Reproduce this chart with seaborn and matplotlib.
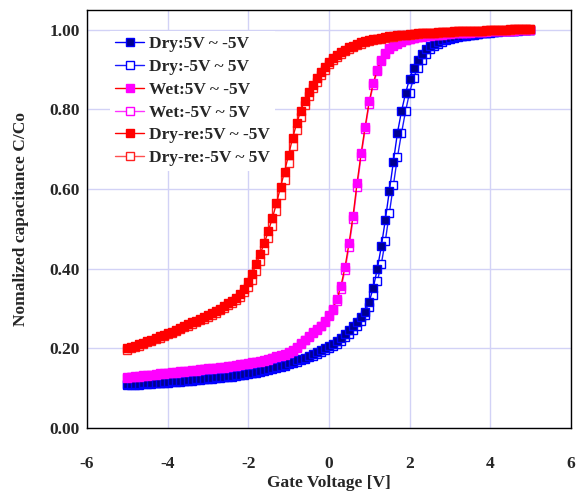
import numpy as np
import pandas as pd
import matplotlib
matplotlib.use("Agg")
import matplotlib.pyplot as plt
import seaborn as sns

# Gate voltage sweep (V), 0.1 V steps from -5 to 5
voltage = np.round(np.arange(-50, 51) / 10.0, 1)

dry_fwd = [
    0.110, 0.110, 0.111, 0.111, 0.112, 0.112, 0.113, 0.114, 0.114, 0.115,
    0.116, 0.117, 0.117, 0.118, 0.119, 0.120, 0.121, 0.122, 0.123, 0.124,
    0.125, 0.126, 0.127, 0.128, 0.129, 0.130, 0.131, 0.133, 0.134, 0.135,
    0.137, 0.139, 0.141, 0.143, 0.145, 0.148, 0.150, 0.153, 0.156, 0.159,
    0.163, 0.166, 0.170, 0.173, 0.177, 0.182, 0.186, 0.191, 0.195, 0.200,
    0.205, 0.211, 0.218, 0.225, 0.235, 0.245, 0.255, 0.265, 0.278, 0.292,
    0.317, 0.352, 0.399, 0.456, 0.523, 0.596, 0.669, 0.741, 0.795, 0.840,
    0.877, 0.905, 0.925, 0.940, 0.952, 0.960, 0.965, 0.970, 0.974, 0.977,
    0.980, 0.982, 0.984, 0.985, 0.987, 0.988, 0.989, 0.990, 0.992, 0.993,
    0.994, 0.995, 0.996, 0.996, 0.997, 0.998, 0.998, 0.999, 0.999, 1.000, 1.000]

dry_rev = [
    0.108, 0.108, 0.109, 0.109, 0.110, 0.110, 0.111, 0.112, 0.112, 0.113,
    0.114, 0.115, 0.115, 0.116, 0.117, 0.118, 0.119, 0.120, 0.121, 0.122,
    0.123, 0.124, 0.125, 0.126, 0.127, 0.128, 0.129, 0.131, 0.132, 0.133,
    0.135, 0.137, 0.139, 0.141, 0.143, 0.146, 0.148, 0.151, 0.154, 0.157,
    0.160, 0.163, 0.167, 0.170, 0.174, 0.178, 0.182, 0.187, 0.191, 0.195,
    0.200, 0.206, 0.212, 0.219, 0.228, 0.237, 0.247, 0.257, 0.270, 0.285,
    0.305, 0.335, 0.368, 0.412, 0.470, 0.540, 0.610, 0.680, 0.740, 0.795,
    0.842, 0.878, 0.905, 0.925, 0.940, 0.951, 0.959, 0.965, 0.970, 0.974,
    0.977, 0.980, 0.982, 0.984, 0.985, 0.987, 0.988, 0.989, 0.991, 0.992,
    0.993, 0.994, 0.995, 0.996, 0.997, 0.997, 0.998, 0.998, 0.999, 0.999, 1.000]

wet_fwd = [
    0.128, 0.129, 0.130, 0.131, 0.132, 0.133, 0.134, 0.135, 0.137, 0.138,
    0.139, 0.140, 0.141, 0.142, 0.143, 0.144, 0.145, 0.146, 0.148, 0.149,
    0.150, 0.151, 0.152, 0.153, 0.154, 0.156, 0.157, 0.159, 0.160, 0.162,
    0.163, 0.165, 0.167, 0.169, 0.171, 0.174, 0.177, 0.180, 0.183, 0.186,
    0.190, 0.196, 0.204, 0.213, 0.222, 0.230, 0.240, 0.248, 0.257, 0.270,
    0.285, 0.300, 0.323, 0.357, 0.404, 0.464, 0.533, 0.616, 0.690, 0.757,
    0.820, 0.866, 0.900, 0.925, 0.942, 0.953, 0.961, 0.967, 0.971, 0.975,
    0.978, 0.980, 0.982, 0.984, 0.985, 0.986, 0.987, 0.988, 0.989, 0.990,
    0.991, 0.992, 0.992, 0.993, 0.993, 0.994, 0.994, 0.995, 0.995, 0.996,
    0.996, 0.997, 0.997, 0.997, 0.998, 0.998, 0.999, 0.999, 0.999, 1.000, 1.000]

wet_rev = [
    0.126, 0.127, 0.128, 0.129, 0.130, 0.131, 0.132, 0.133, 0.135, 0.136,
    0.137, 0.138, 0.139, 0.140, 0.141, 0.142, 0.143, 0.144, 0.146, 0.147,
    0.148, 0.149, 0.150, 0.151, 0.152, 0.154, 0.155, 0.157, 0.158, 0.160,
    0.161, 0.163, 0.165, 0.167, 0.169, 0.172, 0.175, 0.178, 0.181, 0.184,
    0.188, 0.194, 0.202, 0.211, 0.220, 0.228, 0.238, 0.246, 0.255, 0.267,
    0.282, 0.296, 0.318, 0.350, 0.396, 0.455, 0.524, 0.606, 0.682, 0.750,
    0.814, 0.861, 0.896, 0.922, 0.940, 0.951, 0.959, 0.965, 0.970, 0.974,
    0.977, 0.979, 0.981, 0.983, 0.984, 0.985, 0.986, 0.987, 0.988, 0.989,
    0.990, 0.991, 0.992, 0.992, 0.993, 0.993, 0.994, 0.994, 0.995, 0.995,
    0.996, 0.996, 0.997, 0.997, 0.998, 0.998, 0.998, 0.999, 0.999, 0.999, 1.000]

dryre_fwd = [
    0.200, 0.203, 0.207, 0.210, 0.214, 0.218, 0.222, 0.226, 0.230, 0.234,
    0.238, 0.242, 0.247, 0.251, 0.256, 0.260, 0.265, 0.269, 0.274, 0.278,
    0.283, 0.288, 0.294, 0.300, 0.306, 0.313, 0.319, 0.326, 0.337, 0.350,
    0.367, 0.388, 0.412, 0.438, 0.465, 0.495, 0.528, 0.564, 0.605, 0.644,
    0.686, 0.728, 0.765, 0.796, 0.822, 0.843, 0.862, 0.878, 0.893, 0.907,
    0.920, 0.929, 0.936, 0.943, 0.950, 0.956, 0.960, 0.964, 0.968, 0.971,
    0.974, 0.976, 0.978, 0.980, 0.982, 0.984, 0.985, 0.986, 0.987, 0.988,
    0.989, 0.990, 0.991, 0.992, 0.992, 0.993, 0.993, 0.994, 0.994, 0.995,
    0.995, 0.996, 0.996, 0.997, 0.997, 0.997, 0.998, 0.998, 0.998, 0.999,
    0.999, 0.999, 1.000, 1.000, 1.000, 1.001, 1.001, 1.001, 1.002, 1.002, 1.002]

dryre_rev = [
    0.197, 0.200, 0.204, 0.207, 0.211, 0.215, 0.219, 0.223, 0.227, 0.231,
    0.235, 0.239, 0.244, 0.248, 0.253, 0.257, 0.262, 0.266, 0.271, 0.275,
    0.280, 0.285, 0.290, 0.296, 0.302, 0.308, 0.314, 0.321, 0.330, 0.341,
    0.355, 0.372, 0.395, 0.420, 0.447, 0.476, 0.508, 0.544, 0.584, 0.624,
    0.666, 0.708, 0.748, 0.782, 0.810, 0.833, 0.853, 0.870, 0.886, 0.900,
    0.913, 0.923, 0.931, 0.939, 0.946, 0.952, 0.957, 0.961, 0.965, 0.969,
    0.972, 0.974, 0.976, 0.978, 0.980, 0.982, 0.983, 0.985, 0.986, 0.987,
    0.988, 0.989, 0.990, 0.991, 0.991, 0.992, 0.993, 0.993, 0.994, 0.994,
    0.995, 0.995, 0.996, 0.996, 0.996, 0.997, 0.997, 0.998, 0.998, 0.998,
    0.999, 0.999, 0.999, 1.000, 1.000, 1.000, 1.001, 1.001, 1.001, 1.002, 1.002]

labels = ["Dry:5V ~ -5V", "Dry:-5V ~ 5V", "Wet:5V ~ -5V",
          "Wet:-5V ~ 5V", "Dry-re:5V ~ -5V", "Dry-re:-5V ~ 5V"]
series = [dry_fwd, dry_rev, wet_fwd, wet_rev, dryre_fwd, dryre_rev]
line_colors = ["#0000ff", "#1a1aff", "#ff0000", "#ff33ff", "#ff0000", "#ff5050"]
face_colors = ["#000090", "white", "#ff00ff", "white", "#ff0000", "white"]
edge_colors = ["#0000ff", "#0000ff", "#ff00ff", "#ff00ff", "#ff0000", "#ff2020"]

sns.set_style("white")
plt.rcParams["font.family"] = ["Liberation Serif", "DejaVu Serif"]
plt.rcParams["font.weight"] = "bold"

fig = plt.figure(figsize=(5.76, 4.92), dpi=100)
ax = fig.add_axes([0.151, 0.130, 0.840, 0.850])

# draw each reverse (open) sweep first, then its forward (filled) sweep on top
draw_order = [1, 0, 3, 2, 5, 4]
for i in draw_order:
    df = pd.DataFrame({"V": voltage, "C": series[i]})
    sns.lineplot(data=df, x="V", y="C", ax=ax, color=line_colors[i], linewidth=1.0,
                 marker="s", markersize=5.5, markerfacecolor=face_colors[i],
                 markeredgecolor=edge_colors[i], markeredgewidth=1.0,
                 label=labels[i], sort=False, estimator=None, zorder=3)

ax.set_xlim(-6, 6)
ax.set_ylim(0, 1.05)
ax.set_xticks([-6, -4, -2, 0, 2, 4, 6])
ax.set_xticklabels(["-6", "-4", "-2", "0", "2", "4", "6"])
ax.set_yticks([0, 0.2, 0.4, 0.6, 0.8, 1.0])
ax.set_yticklabels(["0.00", "0.20", "0.40", "0.60", "0.80", "1.00"])
ax.grid(True, color="#d2d2f6", linewidth=1.0, zorder=0)
ax.set_axisbelow(True)
ax.tick_params(axis="both", direction="in", length=4, color="#c8c8f0",
               labelsize=12.5)
ax.tick_params(axis="x", pad=20)
ax.tick_params(axis="y", pad=5)
for t in ax.get_xticklabels() + ax.get_yticklabels():
    t.set_fontweight("bold")
for s in ax.spines.values():
    s.set_color("black")
    s.set_linewidth(1.0)

ax.set_xlabel("Gate Voltage [V]", fontsize=12.5, fontweight="bold", labelpad=2)
ax.set_ylabel("Nomalized capacitance C/Co", fontsize=12.5, fontweight="bold", labelpad=15)

handles, hlabels = ax.get_legend_handles_labels()
lookup = dict(zip(hlabels, handles))
leg = ax.legend([lookup[l] for l in labels], labels,
                loc="upper left", bbox_to_anchor=(0.03, 0.97), frameon=True,
                fancybox=False, edgecolor="none", facecolor="white", framealpha=1,
                fontsize=12.5, handlelength=1.65, handletextpad=0.3,
                labelspacing=0.38, borderpad=0.3)
for t in leg.get_texts():
    t.set_fontweight("bold")

fig.savefig("out.png", dpi=100)
